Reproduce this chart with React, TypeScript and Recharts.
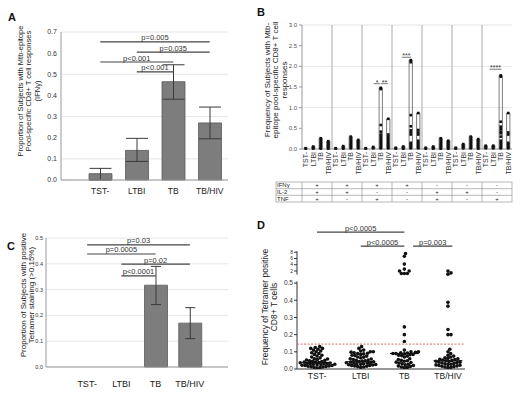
import React from 'react';
import {
  BarChart, ComposedChart, Bar, ErrorBar, XAxis, YAxis, CartesianGrid,
  ReferenceLine, ReferenceArea, Scatter,
} from 'recharts';

const FONT = '"Liberation Sans", Arial, Helvetica, sans-serif';

// ---------- shared ----------
const groups = ['TST-', 'LTBI', 'TB', 'TB/HIV'];
const fmt1 = (v: number) => v.toFixed(1);

// ---------- Panel A ----------
const propA = [0.03, 0.14, 0.465, 0.27];
const lowA = [0.0, 0.088, 0.382, 0.195];
const highA = [0.055, 0.197, 0.545, 0.345];
const ticksA = [0, 0.1, 0.2, 0.3, 0.4, 0.5, 0.6, 0.7];
const sigA = [
  { from: 'TST-', to: 'TB/HIV', y: 0.653, text: 'p=0.005' },
  { from: 'LTBI', to: 'TB/HIV', y: 0.605, text: 'p=0.035' },
  { from: 'TST-', to: 'TB', y: 0.558, text: 'p<0.001' },
  { from: 'LTBI', to: 'TB', y: 0.511, text: 'p<0.001' },
];

// ---------- Panel B ----------
const bTickNames = groups;
const bYTicks = [0, 0.5, 1, 1.5, 2, 2.5, 3];
const bCol1 = [[0.02, 0.01], [0.06, 0.03, 0.01], [0.26, 0.22, 0.18, 0.14, 0.1, 0.06, 0.03, 0.01], [0.19, 0.16, 0.13, 0.1, 0.07, 0.04, 0.01]];
const bCol2 = [[0.02, 0.01], [0.07, 0.03, 0.01], [0.3, 0.25, 0.2, 0.14, 0.1, 0.06, 0.02], [0.22, 0.18, 0.14, 0.1, 0.06, 0.02]];
const bCol3 = [[0.02, 0.01], [0.05, 0.02], [1.48, 1.45, 0.58, 0.42, 0.35, 0.3, 0.25, 0.2, 0.15, 0.1, 0.05, 0.02], [0.73, 0.35, 0.3, 0.25, 0.2, 0.14, 0.1, 0.05, 0.02]];
const bCol4 = [[0.03, 0.01], [0.06, 0.03, 0.01], [2.15, 2.1, 0.82, 0.55, 0.45, 0.4, 0.35, 0.15, 0.12, 0.08, 0.05, 0.02], [0.87, 0.46, 0.4, 0.35, 0.2, 0.15, 0.1, 0.05, 0.02]];
const bCol5 = [[0.03, 0.01], [0.06, 0.03, 0.01], [0.26, 0.22, 0.17, 0.12, 0.08, 0.04, 0.01], [0.2, 0.17, 0.14, 0.1, 0.07, 0.04, 0.01]];
const bCol6 = [[0.03, 0.01], [0.12, 0.08, 0.05, 0.02], [0.3, 0.25, 0.2, 0.15, 0.1, 0.05, 0.02], [0.24, 0.2, 0.15, 0.1, 0.05, 0.01]];
const bCol7 = [[0.08, 0.05, 0.02], [0.08, 0.05, 0.02], [1.78, 1.75, 0.66, 0.54, 0.48, 0.42, 0.38, 0.3, 0.2, 0.15, 0.1, 0.05, 0.02], [0.87, 0.4, 0.35, 0.15, 0.12, 0.08, 0.04, 0.02]];
const bColumns = [bCol1, bCol2, bCol3, bCol4, bCol5, bCol6, bCol7];
const bIFN = ['+', '+', '+', '+', '-', '-', '-'];
const bIL2 = ['+', '+', '-', '-', '+', '+', '-'];
const bTNF = ['+', '-', '+', '-', '+', '-', '+'];
const bRowNames = ['IFNγ', 'IL-2', 'TNF'];
const sigB = [
  { x1: 9.55, x2: 10.45, y: 1.58, text: '*' },
  { x1: 10.55, x2: 11.45, y: 1.58, text: '**' },
  { x1: 13.3, x2: 14.55, y: 2.22, text: '***' },
  { x1: 25.0, x2: 26.6, y: 1.93, text: '****' },
];

// ---------- Panel C ----------
const propC = [0, 0, 0.317, 0.17];
const lowC = [0, 0, 0.242, 0.11];
const highC = [0, 0, 0.39, 0.23];
const ticksC = [0, 0.1, 0.2, 0.3, 0.4, 0.5];
const sigC = [
  { from: 'TST-', to: 'TB/HIV', y: 0.473, text: 'p=0.03' },
  { from: 'TST-', to: 'TB', y: 0.438, text: 'p=0.0005' },
  { from: 'LTBI', to: 'TB/HIV', y: 0.399, text: 'p=0.02' },
  { from: 'LTBI', to: 'TB', y: 0.353, text: 'p<0.0001' },
];

// ---------- Panel D ----------
const dTST = [0.13, 0.125, 0.12, 0.12, 0.115, 0.11, 0.105, 0.10, 0.095, 0.09, 0.085, 0.08, 0.075, 0.07, 0.065, 0.06, 0.058, 0.055, 0.052, 0.05, 0.048, 0.045, 0.043, 0.04, 0.04, 0.038, 0.036, 0.035, 0.033, 0.032, 0.03, 0.03, 0.028, 0.027, 0.025, 0.024, 0.022, 0.02, 0.02, 0.018, 0.016, 0.015, 0.013, 0.012, 0.01, 0.008, 0.006];
const dLTBI = [0.13, 0.12, 0.11, 0.105, 0.10, 0.10, 0.098, 0.095, 0.092, 0.09, 0.088, 0.085, 0.08, 0.078, 0.075, 0.07, 0.068, 0.065, 0.06, 0.058, 0.055, 0.052, 0.05, 0.048, 0.046, 0.044, 0.042, 0.04, 0.038, 0.036, 0.035, 0.033, 0.031, 0.03, 0.028, 0.026, 0.025, 0.023, 0.021, 0.02, 0.018, 0.016, 0.014, 0.012, 0.01];
const dTB = [7.6, 6.7, 4.2, 2.6, 2.0, 2.0, 1.2, 1.2, 1.2, 0.245, 0.20, 0.16, 0.11, 0.10, 0.10, 0.097, 0.095, 0.093, 0.09, 0.09, 0.088, 0.085, 0.083, 0.08, 0.078, 0.075, 0.07, 0.06, 0.055, 0.05, 0.048, 0.045, 0.04, 0.038, 0.035, 0.03, 0.028, 0.025, 0.02, 0.018, 0.015, 0.012, 0.01, 0.008];
const dTBHIV = [2.0, 1.4, 1.0, 0.388, 0.366, 0.23, 0.20, 0.20, 0.115, 0.10, 0.09, 0.08, 0.075, 0.07, 0.065, 0.062, 0.06, 0.057, 0.055, 0.052, 0.05, 0.048, 0.045, 0.043, 0.04, 0.04, 0.038, 0.035, 0.033, 0.03, 0.028, 0.026, 0.024, 0.022, 0.02, 0.018, 0.016, 0.014, 0.012, 0.01, 0.008];
const dSeries = [dTST, dLTBI, dTB, dTBHIV];
const dMedians = [0.037, 0.042, 0.09, 0.048];
const dThreshold = 0.145;
const dLowerTicks = [0, 0.1, 0.2, 0.3, 0.4, 0.5];
const dUpperTicks = [2, 4, 6, 8];
const sigD = [
  { x1: 0, x2: 2, y: 0.797, text: 'p<0.0005' },
  { x1: 1, x2: 2, y: 0.715, text: 'p<0.0005' },
  { x1: 2.2, x2: 3.1, y: 0.715, text: 'p=0.003' },
];

// broken axis mapping for panel D (upper section 1..8 compressed above 0.5)
const UP0 = 0.5523;
const UPK = 0.01824;
const tUp = (v: number) => UP0 + (v - 1) * UPK;
const toAxis = (v: number) => (v <= 0.6 ? v : tUp(v));
const fromAxis = (t: number) => (t - UP0) / UPK + 1;

// beeswarm layout (pixel-based collision avoidance)
function swarm(values: number[], cat: number, minDist: number, pxX: number, pxY: number) {
  const sorted = values.map((v) => toAxis(v)).sort((a, b) => a - b);
  const placed: { x: number; y: number }[] = [];
  const out: { x: number; y: number }[] = [];
  for (const t of sorted) {
    const py = t * pxY;
    let dx = 0;
    for (let k = 0; k < 600; k++) {
      const cand = k === 0 ? 0 : (k % 2 ? 1 : -1) * Math.ceil(k / 2) * 0.3;
      const ok = placed.every((p) => (p.x - cand) ** 2 + (p.y - py) ** 2 >= minDist ** 2);
      if (ok) { dx = cand; break; }
    }
    placed.push({ x: dx, y: py });
    out.push({ x: cat + dx / pxX, y: t });
  }
  return out;
}

// ---------- helpers ----------
function yTitle(lines: string[], xs: number[], cy: number, fs: number) {
  return () => (
    <g>
      {lines.map((t, i) => (
        <text key={i} x={xs[i]} y={cy} transform={`rotate(-90 ${xs[i]} ${cy})`} textAnchor="middle"
          dominantBaseline="central" fontSize={fs} fill="#222" fontFamily={FONT}>{t}</text>
      ))}
    </g>
  );
}

function catTick(dy: number, fs: number) {
  return (p: any) => (
    <text x={p.x} y={p.y} dy={dy} textAnchor="middle" fontSize={fs} fill="#222" fontFamily={FONT}>
      {p.payload.value}
    </text>
  );
}

const bRotTick = (p: any) => {
  const name = bTickNames[Math.floor(p.payload.value) % 4];
  const y = p.y + 3;
  return (
    <text x={p.x} y={y} transform={`rotate(-90 ${p.x} ${y})`} textAnchor="end" dy="0.35em"
      fontSize={7} fill="#333" fontFamily={FONT}>{name}</text>
  );
};

const dYTick = (p: any) => {
  const v = p.payload.value;
  const upper = v > 0.52;
  return (
    <text x={p.x} y={p.y} dy="0.35em" textAnchor="end" fontSize={upper ? 5 : 6.5} fill="#333" fontFamily={FONT}>
      {upper ? String(Math.round(fromAxis(v))) : v.toFixed(1)}
    </text>
  );
};

const squareDot = (p: any) => <rect x={p.cx - 1.3} y={p.cy - 1.3} width={2.6} height={2.6} fill="#111" />;
const roundDot = (p: any) => <circle cx={p.cx} cy={p.cy} r={1.8} fill="#111" />;

// ---------- tables ----------
const tableA = groups.map((g, i) => ({ group: g, value: propA[i], err: [propA[i] - lowA[i], highA[i] - propA[i]] }));
const tableC = groups.map((g, i) => ({ group: g, value: propC[i], err: [propC[i] - lowC[i], highC[i] - propC[i]] }));

const bTickPos: number[] = [];
const bPoints: { x: number; y: number }[] = [];
const bBoxes: { x: number; max: number }[] = [];
bColumns.forEach((col, g) => {
  col.forEach((vals, c) => {
    const pos = g * 4 + c + 0.5;
    bTickPos.push(pos);
    vals.forEach((v) => bPoints.push({ x: pos, y: v }));
    bBoxes.push({ x: pos, max: Math.max(...vals) });
  });
});
const bSeparators = [4, 8, 12, 16, 20, 24];

const D_PX_X = 168 / 3.85;
const D_PX_Y = 146 / 0.85;
const dPoints = dSeries.flatMap((vals, i) => swarm(vals, i, 3.0, D_PX_X, D_PX_Y));
const dYTicks = [...dLowerTicks, ...dUpperTicks.map(tUp)];

const frame = { stroke: '#999' };

export default function App() {
  return (
    <div style={{ position: 'absolute', left: 0, top: 0, width: 523, height: 399, background: '#fff', fontFamily: FONT, overflow: 'hidden' }}>
      {/* Panel A */}
      <div style={{ position: 'absolute', left: 0, top: 0 }}>
        <BarChart width={240} height={200} data={tableA} margin={{ top: 32, right: 12, bottom: 0, left: 0 }} barSize={23}>
          <CartesianGrid vertical={false} stroke="#e6e6e6" />
          <XAxis dataKey="group" type="category" padding={{ left: 21, right: 0 }} height={20} tickSize={0} tickMargin={0}
            tickLine={false} axisLine={frame} tick={catTick(14, 8.5)} interval={0} />
          <XAxis xAxisId="top" orientation="top" height={0} tick={false} tickLine={false} axisLine={frame} />
          <YAxis type="number" domain={[0, 0.7]} ticks={ticksA} tickFormatter={fmt1} width={61} tickLine={false}
            tickSize={0} tickMargin={4} axisLine={frame} tick={{ fontSize: 7, fill: '#333', fontFamily: FONT }}
            label={yTitle(['Proportion of Subjects with Mtb-epitope', 'Pool-specific CD8+ T cell responses', '(IFNγ)'], [20, 28.5, 37], 91, 7.5)} />
          <YAxis yAxisId="right" orientation="right" width={0} tick={false} tickLine={false} axisLine={frame} />
          <Bar dataKey="value" fill="#7d7d7d" stroke="#5a5a5a" strokeWidth={0.8} isAnimationActive={false}>
            <ErrorBar dataKey="err" width={11} stroke="#3a3a3a" strokeWidth={1} direction="y" />
          </Bar>
          {sigA.map((s, i) => (
            <ReferenceLine key={i} segment={[{ x: s.from, y: s.y }, { x: s.to, y: s.y }]} stroke="#444" strokeWidth={1.2}
              ifOverflow="visible"
              label={{ value: s.text, position: 'top', fontSize: 7.5, fill: '#333', offset: 1.5, fontFamily: FONT }} />
          ))}
        </BarChart>
      </div>

      {/* Panel B */}
      <div style={{ position: 'absolute', left: 260, top: 0 }}>
        <ComposedChart width={263} height={180} margin={{ top: 25, right: 11, bottom: 1, left: 0 }}>
          <CartesianGrid vertical={false} stroke="#e6e6e6" />
          <XAxis dataKey="x" type="number" domain={[0, 28]} ticks={bTickPos} interval={0} tickSize={0} tickMargin={0}
            tickLine={false} axisLine={frame} height={30} tick={bRotTick} allowDataOverflow />
          <XAxis xAxisId="top" orientation="top" type="number" domain={[0, 28]} ticks={bTickPos} interval={0} height={0}
            tick={false} tickSize={2} mirror tickLine={frame} axisLine={frame} />
          <YAxis dataKey="y" type="number" domain={[0, 3]} ticks={bYTicks} tickFormatter={fmt1} width={42} tickSize={3}
            tickMargin={2} axisLine={frame} tickLine={frame} tick={{ fontSize: 6, fill: '#555', fontFamily: FONT }}
            label={yTitle(['Frequency of Subjects with Mtb-', 'epitope pool-specific CD8+ T cell', 'responses'], [7, 15.5, 24], 80, 8)} />
          <YAxis yAxisId="right" orientation="right" width={0} tick={false} tickLine={false} axisLine={frame} />
          {bSeparators.map((x) => (
            <ReferenceLine key={x} x={x} stroke="#aaa" strokeWidth={1} />
          ))}
          {bBoxes.map((b, i) => (
            <ReferenceArea key={i} x1={b.x - 0.22} x2={b.x + 0.22} y1={0} y2={b.max} fill="none" stroke="#444"
              strokeWidth={0.7} ifOverflow="visible" />
          ))}
          <Scatter data={bPoints} dataKey="y" isAnimationActive={false} shape={squareDot} />
          {sigB.map((s, i) => (
            <ReferenceLine key={i} segment={[{ x: s.x1, y: s.y }, { x: s.x2, y: s.y }]} stroke="#555" strokeWidth={0.8}
              ifOverflow="visible"
              label={{ value: s.text, position: 'top', fontSize: 7, fill: '#333', offset: -1, fontFamily: FONT }} />
          ))}
        </ComposedChart>
      </div>

      {/* Panel C */}
      <div style={{ position: 'absolute', left: 0, top: 200 }}>
        <BarChart width={240} height={199} data={tableC} margin={{ top: 38, right: 12, bottom: 12, left: 0 }} barSize={23}>
          <CartesianGrid vertical={false} stroke="#e6e6e6" />
          <XAxis dataKey="group" type="category" padding={{ left: 24, right: 21 }} height={20} tickSize={0} tickMargin={0}
            tickLine={false} axisLine={frame} tick={catTick(20, 9)} interval={0} />
          <XAxis xAxisId="top" orientation="top" height={0} tick={false} tickLine={false} axisLine={frame} />
          <YAxis type="number" domain={[0, 0.5]} ticks={ticksC} tickFormatter={fmt1} width={46} tickLine={false}
            tickSize={0} tickMargin={3} axisLine={frame} tick={{ fontSize: 5.5, fill: '#333', fontFamily: FONT }}
            label={yTitle(['Proportion of Subjects with positive', 'Tetramer staining (>0.15%)'], [23, 31], 95, 8)} />
          <YAxis yAxisId="right" orientation="right" width={0} tick={false} tickLine={false} axisLine={frame} />
          <Bar dataKey="value" fill="#7d7d7d" stroke="#5a5a5a" strokeWidth={0.8} isAnimationActive={false}>
            <ErrorBar dataKey="err" width={5} stroke="#3a3a3a" strokeWidth={1} direction="y" />
          </Bar>
          {sigC.map((s, i) => (
            <ReferenceLine key={i} segment={[{ x: s.from, y: s.y }, { x: s.to, y: s.y }]} stroke="#444" strokeWidth={1.2}
              ifOverflow="visible"
              label={{ value: s.text, position: 'top', fontSize: 7.5, fill: '#333', offset: 1.5, fontFamily: FONT }} />
          ))}
        </BarChart>
      </div>

      {/* Panel D */}
      <div style={{ position: 'absolute', left: 260, top: 215 }}>
        <ComposedChart width={263} height={180} margin={{ top: 8, right: 58, bottom: 6, left: 0 }}>
          <XAxis dataKey="x" type="number" domain={[-0.46, 3.39]} ticks={[0, 1, 2, 3]} interval={0} tickSize={0} tickMargin={0}
            tickLine={false} axisLine={{ stroke: '#333' }} height={20} allowDataOverflow
            tick={(p: any) => (
              <text x={p.x} y={p.y} dy={10} textAnchor="middle" fontSize={8.5} fill="#222" fontFamily={FONT}>
                {groups[Math.round(p.payload.value)]}
              </text>
            )} />
          <YAxis dataKey="y" type="number" domain={[0, 0.85]} ticks={dYTicks} interval={0} width={37} axisLine={false}
            tickLine={{ stroke: '#333' }} tickSize={3} tickMargin={1} tick={dYTick} allowDataOverflow
            label={yTitle(['Frequency of Tetramer positive', 'CD8+ T cells'], [5, 14], 92, 8.5)} />
          <ReferenceLine segment={[{ x: -0.46, y: 0 }, { x: -0.46, y: 0.51 }]} stroke="#333" ifOverflow="visible" />
          <ReferenceLine segment={[{ x: -0.46, y: tUp(0.85) }, { x: -0.46, y: tUp(8.3) }]} stroke="#333" ifOverflow="visible" />
          <ReferenceLine y={dThreshold} stroke="#e06a6a" strokeWidth={1} strokeDasharray="2 1.5" />
          {dMedians.map((m, i) => (
            <ReferenceLine key={i} segment={[{ x: i - 0.33, y: m }, { x: i + 0.33, y: m }]} stroke="#111" strokeWidth={1.2}
              ifOverflow="visible" />
          ))}
          <Scatter data={dPoints} dataKey="y" isAnimationActive={false} shape={roundDot} />
          {sigD.map((s, i) => (
            <ReferenceLine key={i} segment={[{ x: s.x1, y: s.y }, { x: s.x2, y: s.y }]} stroke="#444" strokeWidth={1.2}
              ifOverflow="visible"
              label={{ value: s.text, position: 'top', fontSize: 7.5, fill: '#333', offset: 1.5, fontFamily: FONT }} />
          ))}
        </ComposedChart>
      </div>

      {/* Panel letters + B cytokine table */}
      <svg width={523} height={399} style={{ position: 'absolute', left: 0, top: 0, pointerEvents: 'none' }}>
        <g fontFamily={FONT} fontWeight="bold" fontSize={11} fill="#111">
          <text x={8} y={21}>A</text>
          <text x={257} y={16}>B</text>
          <text x={7} y={250}>C</text>
          <text x={257} y={229}>D</text>
        </g>
        <g fontFamily={FONT} fontSize={6} fill="#222">
          <rect x={276} y={182} width={236} height={20} fill="none" stroke="#888" strokeWidth={0.6} />
          <line x1={276} x2={512} y1={188.7} y2={188.7} stroke="#888" strokeWidth={0.6} />
          <line x1={276} x2={512} y1={195.3} y2={195.3} stroke="#888" strokeWidth={0.6} />
          {[0, 1, 2, 3, 4, 5, 6].map((k) => (
            <line key={k} x1={302 + 30 * k} x2={302 + 30 * k} y1={182} y2={202} stroke="#888" strokeWidth={0.6} />
          ))}
          {[bIFN, bIL2, bTNF].map((row, r) => (
            <g key={r}>
              <text x={277} y={187.3 + r * 6.67}>{bRowNames[r]}</text>
              {row.map((s, k) => (
                <text key={k} x={317 + 30 * k} y={187.3 + r * 6.67} textAnchor="middle">{s}</text>
              ))}
            </g>
          ))}
        </g>
      </svg>
    </div>
  );
}
